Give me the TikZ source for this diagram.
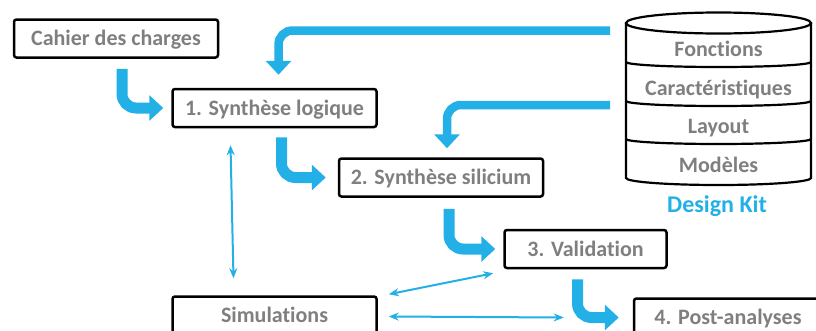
\documentclass[tikz,border=0pt]{standalone}
\usepackage{fontspec}
\setmainfont{Carlito}[Ligatures=NoCommon]
\usetikzlibrary{positioning, arrows.meta, calc}
\definecolor{flowblue}{RGB}{34,176,230}
\definecolor{labelgray}{RGB}{127,127,127}

\begin{document}
\begin{tikzpicture}[x=1pt, y=1pt, thick,
    stage/.style = {draw, line width=2.5pt, rounded corners=2.5pt, minimum width=204pt, minimum height=38pt,
        text=labelgray, font=\fontsize{22}{26}\selectfont\bfseries, text height=14pt, text depth=0pt},
    layer/.style = {minimum width=185pt, minimum height=38.5pt, outer sep=0pt,
        text=labelgray, font=\fontsize{22}{26}\selectfont\bfseries, text height=14pt, text depth=0pt},
    flow/.style = {draw=flowblue, line width=11pt, rounded corners=14pt, -{Triangle[width=25pt, length=14pt]}},
    longflow/.style = {flow, line width=8.5pt},
    link/.style = {draw=flowblue, line width=2pt, {Stealth[length=10pt, width=8pt]}-{Stealth[length=10pt, width=8pt]}}]
    \clip (0,0) rectangle (816,-330);
    % design flow
    \node[stage] (cahier) at (116,-38.5) {Cahier des charges};
    \node[stage, below right=29pt and -48pt of cahier] (syn1) {1. Synthèse logique};
    \node[stage, below right=29pt and -40pt of syn1] (syn2) {2. Synthèse silicium};
    \node[stage, minimum width=162pt, below right=31pt and -41pt of syn2] (valid) {3. Validation};
    \node[stage, minimum width=188pt, below right=28pt and -35pt of valid] (post) {4. Post-analyses};
    \node[stage, below=167pt of syn1] (sims) {Simulations};
    % design kit
    \node[layer] (fonc) at (718.5,-49.5) {Fonctions};
    \node[layer, below=0pt of fonc] (carac) {Caractéristiques};
    \node[layer, below=0pt of carac] (layout) {Layout};
    \node[layer, below=0pt of layout] (modeles) {Modèles};
    \node[text=flowblue, font=\fontsize{24}{28}\selectfont\bfseries, text height=15.5pt, text depth=0pt] (kit) at (717,-205) {Design Kit};
    \draw[line width=2.2pt] (626,-23) -- (626,-178) arc[start angle=180, end angle=360, x radius=92.5, y radius=7] -- (811,-23);
    \draw[line width=2.2pt] (718.5,-23) ellipse [x radius=92.5, y radius=10.5];
    \foreach \y in {62,101,139}
        \draw[line width=2.2pt] (626,-\y) arc[start angle=180, end angle=360, x radius=92.5, y radius=5];
    % thick arrows
    \draw[flow] ([shift={(6,-10)}]cahier.south) |- ([xshift=-8]syn1.west);
    \draw[flow] ([shift={(7,-9)}]syn1.south) |- ([xshift=-12]syn2.west);
    \draw[flow] ([shift={(8,-11)}]syn2.south) |- ([xshift=-8]valid.west);
    \draw[flow] ([shift={(-8,-10)}]valid.south) |- ([xshift=-14]post.west);
    \draw[longflow] ([shift={(-16,19)}]fonc.west) -| ([shift={(4,13)}]syn1.north);
    \draw[longflow] ([shift={(-16,-17)}]carac.west) -| ([shift={(6,9)}]syn2.north);
    % simulation links
    \draw[link] ([shift={(-44,-17)}]syn1.south) -- ([shift={(-41,17)}]sims.north);
    \draw[link] ([shift={(11,1)}]sims.north east) -- ([shift={(-10,-4)}]valid.south west);
    \draw[link] ([shift={(11,-1)}]sims.east) -- ([xshift=-69]post.west);
\end{tikzpicture}
\end{document}
